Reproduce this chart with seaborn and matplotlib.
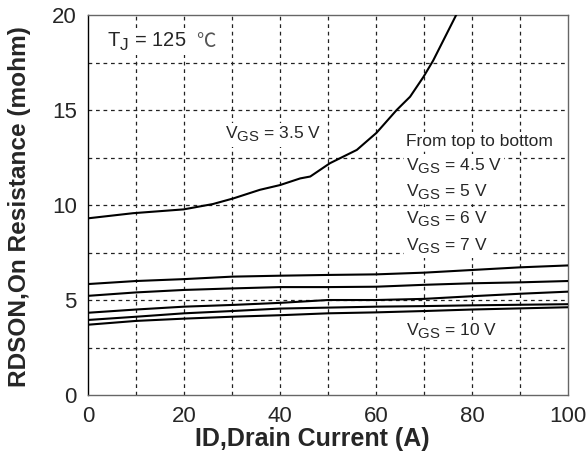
import numpy as np
import pandas as pd
import matplotlib
matplotlib.use("Agg")
import matplotlib.pyplot as plt
import matplotlib._mathtext as _mt
import seaborn as sns

# ---- data ----
id_35 = [0, 9.4, 19.9, 26, 30.3, 35.8, 40, 44.2, 46.3, 50.4, 56, 60.1, 64.3, 67.1, 69.9, 71.9, 74.7, 76.8]
r_35 = [9.3, 9.57, 9.77, 10.05, 10.35, 10.8, 11.05, 11.4, 11.5, 12.2, 12.9, 13.8, 15.0, 15.7, 16.75, 17.6, 19.0, 20.05]

id_low = [0, 10, 20, 30, 40, 50, 60, 70, 80, 90, 100]
r_45 = [5.84, 6.0, 6.1, 6.23, 6.28, 6.32, 6.35, 6.44, 6.58, 6.72, 6.82]
r_5 = [5.22, 5.4, 5.53, 5.61, 5.68, 5.68, 5.7, 5.8, 5.88, 5.93, 6.0]
r_6 = [4.33, 4.5, 4.65, 4.74, 4.85, 5.0, 5.0, 5.06, 5.2, 5.33, 5.44]
r_7 = [3.95, 4.12, 4.3, 4.42, 4.55, 4.6, 4.65, 4.68, 4.72, 4.75, 4.78]
r_10 = [3.7, 3.9, 4.02, 4.12, 4.2, 4.3, 4.35, 4.42, 4.5, 4.56, 4.62]

x_ticks = [0, 20, 40, 60, 80, 100]
y_ticks = [0, 5, 10, 15, 20]
x_label = "ID,Drain Current (A)"
y_label = "RDSON,On Resistance (mohm)"

frames = [pd.DataFrame({"ID": id_35, "R": r_35, "VGS": "3.5"})]
for name, vals in [("4.5", r_45), ("5", r_5), ("6", r_6), ("7", r_7), ("10", r_10)]:
    frames.append(pd.DataFrame({"ID": id_low, "R": vals, "VGS": name}))
df = pd.concat(frames, ignore_index=True)

sns.set_style("white")
plt.rcParams["font.family"] = ["Liberation Sans", "DejaVu Sans"]
plt.rcParams["mathtext.fontset"] = "custom"
plt.rcParams["mathtext.rm"] = "Liberation Sans"
plt.rcParams["mathtext.it"] = "Liberation Sans:italic"
plt.rcParams["mathtext.bf"] = "Liberation Sans:bold"
# larger, lower subscripts like the datasheet
try:
    _mt.SHRINK_FACTOR = 0.86
    _mt.FontConstantsBase.sub1 = 0.38
    _mt.FontConstantsBase.sub2 = 0.45
except Exception:
    pass

fig = plt.figure(figsize=(5.88, 4.65), dpi=100)
ax = fig.add_axes([0.1497, 0.1505, 0.8163, 0.8172])

for name in ["3.5", "4.5", "5", "6", "7", "10"]:
    sub = df[df["VGS"] == name]
    sns.lineplot(data=sub, x="ID", y="R", ax=ax, color="black", lw=1.5,
                 estimator=None, sort=False, legend=False, zorder=3)

ax.set_xlim(0, 100)
ax.set_ylim(0, 20)
ax.set_xticks(x_ticks)
ax.set_xticks(np.arange(0, 101, 10), minor=True)
ax.set_yticks(y_ticks)
ax.set_yticks(np.arange(0, 20.1, 2.5), minor=True)
ax.tick_params(axis="both", which="both", direction="out", length=5, width=0.8,
               color="#333333", labelsize=16, pad=3)
ax.tick_params(axis="y", which="minor", length=0)
ax.grid(False)
for v in np.arange(10, 100, 10):
    ax.axvline(v, color="#222222", lw=0.9, ls=(0, (3, 3)), zorder=1)
for v in np.arange(2.5, 20, 2.5):
    ax.axhline(v, color="#222222", lw=0.9, ls=(0, (3, 3)), zorder=1)

ax.spines["left"].set_color("black")
ax.spines["left"].set_linewidth(1.0)
for s in ["top", "right", "bottom"]:
    ax.spines[s].set_color("#666666")
    ax.spines[s].set_linewidth(1.0)

ax.set_xlabel(x_label, fontsize=18, fontweight="bold")
ax.set_ylabel(y_label, fontsize=17.6, fontweight="bold")
ax.xaxis.set_label_coords(0.468, -0.085)
ax.yaxis.set_label_coords(-0.118, 0.495)

box = dict(facecolor="white", edgecolor="none", pad=1.5)
fs = 12.5
ax.text(4.0, 18.6, r"T$_{\mathrm{J}}$ = 125", fontsize=14.5, va="center", ha="left",
        bbox=box, zorder=4)
ax.text(22.5, 18.6, "℃", fontsize=14, va="center", ha="left", color="#555555",
        family=["Noto Sans CJK SC", "DejaVu Sans"], bbox=box, zorder=4)
ax.text(28.5, 13.7, r"V$_{\mathrm{GS}}$ = 3.5 V", fontsize=fs, va="center", ha="left",
        bbox=box, zorder=4)
ax.text(66.3, 13.35, "From top to bottom", fontsize=fs, va="center", ha="left",
        bbox=box, zorder=4)
for yy, lab in [(12.05, "4.5"), (10.65, "5"), (9.25, "6"), (7.85, "7")]:
    ax.text(66.3, yy, r"V$_{\mathrm{GS}}$ = " + lab + " V", fontsize=fs, va="center",
            ha="left", bbox=box, zorder=4)
ax.text(66.3, 3.35, r"V$_{\mathrm{GS}}$ = 10 V", fontsize=fs, va="center", ha="left",
        bbox=box, zorder=4)

fig.savefig("out.png", dpi=100)
